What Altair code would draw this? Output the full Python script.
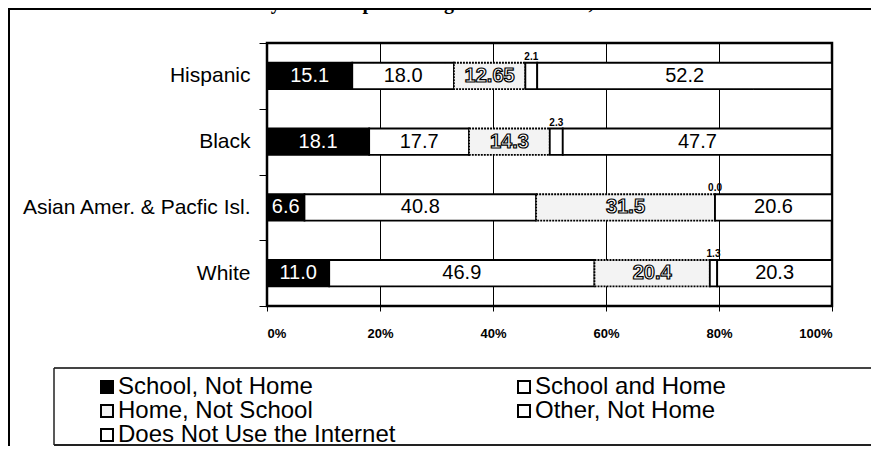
import altair as alt
import pandas as pd

# ---- data ----
races = ["Hispanic", "Black", "Asian Amer. & Pacfic Isl.", "White"]
categories = ["School, Not Home", "School and Home", "Home, Not School",
              "Other, Not Home", "Does Not Use the Internet"]
school_not_home = [15.1, 18.1, 6.6, 11.0]
school_and_home = [18.0, 17.7, 40.8, 46.9]
home_not_school = [12.65, 14.3, 31.5, 20.4]
other_not_home = [2.1, 2.3, 0.0, 1.3]
no_internet = [52.2, 47.7, 20.6, 20.3]
x_ticks = [0, 0.2, 0.4, 0.6, 0.8, 1.0]
title_text = ["By Race/Hispanic Origin and Location, 2001"]
fills = ["#000000", "#ffffff", "#f3f3f3", "#ffffff", "#ffffff"]

series = [school_not_home, school_and_home, home_not_school, other_not_home, no_internet]


def fmt(v):
    return f"{v:.2f}" if round(v, 1) != v else f"{v:.1f}"


rows = []
for ci, (cat, vals) in enumerate(zip(categories, series)):
    for ri, race in enumerate(races):
        rows.append({"race": race, "cat": cat, "order": ci,
                     "value": vals[ri], "label": fmt(vals[ri])})
df = pd.DataFrame(rows)

FONT = "Liberation Sans"

base = alt.Chart(df).transform_joinaggregate(
    total="sum(value)", groupby=["race"]
).transform_window(
    cum="sum(value)", sort=[alt.SortField("order")], groupby=["race"], frame=[None, 0]
).transform_calculate(
    end="datum.cum / datum.total",
    start="(datum.cum - datum.value) / datum.total",
    mid="(datum.cum - datum.value / 2) / datum.total",
)

y_enc = alt.Y(
    "race:N", sort=races,
    scale=alt.Scale(paddingInner=0, paddingOuter=0),
    axis=alt.Axis(title=None, tickBand="extent", tickSize=8, tickColor="black",
                  tickWidth=1, labelFontSize=21, labelFont=FONT, labelColor="black",
                  labelPadding=9, domain=False, grid=False, labelLimit=300),
)

bars = base.mark_bar(height=alt.RelativeBandSize(0.4), stroke="black", strokeWidth=1.8).encode(
    x=alt.X("start:Q", scale=alt.Scale(domain=[0, 1], nice=False),
            axis=alt.Axis(format="%", values=x_ticks, grid=True, gridColor="black",
                          gridWidth=1, gridOpacity=1, tickColor="black", tickSize=5,
                          labelFont=FONT, labelFontWeight="bold", labelFontSize=13,
                          labelColor="black", labelPadding=16, domain=False, title=None)),
    x2="end:Q",
    y=y_enc,
    color=alt.Color("cat:N", sort=categories,
                    scale=alt.Scale(domain=categories, range=fills),
                    legend=alt.Legend(title=None, orient="none", legendX=-172, legendY=332,
                                      direction="horizontal", columns=2, columnPadding=116,
                                      rowPadding=0, symbolType="square", symbolSize=144,
                                      symbolStrokeColor="black", symbolStrokeWidth=2,
                                      symbolOpacity=1, labelFont=FONT, labelFontSize=24,
                                      labelColor="black", labelOffset={"expr": "-1"},
                                      labelLimit=500)),
    strokeDash=alt.condition(alt.datum.cat == "Home, Not School",
                             alt.value([2, 1]), alt.value([1, 0])),
)

big = base.transform_filter(
    (alt.datum.cat != "Other, Not Home") & (alt.datum.cat != "Home, Not School")
)
labels = big.mark_text(font=FONT, fontSize=20, baseline="middle").encode(
    x="mid:Q", y=alt.Y("race:N", sort=races), text="label:N",
    color=alt.condition(alt.datum.cat == "School, Not Home",
                        alt.value("white"), alt.value("black")),
)

outlined = base.transform_filter(alt.datum.cat == "Home, Not School").mark_text(
    font=FONT, fontSize=20, fontWeight="bold", baseline="middle", fill="white",
    stroke="black", strokeWidth=1.2
).encode(x="mid:Q", y=alt.Y("race:N", sort=races), text="label:N")

small = base.transform_filter(alt.datum.cat == "Other, Not Home").mark_text(
    font=FONT, fontSize=10, fontWeight="bold", baseline="bottom", yOffset=-14, color="black"
).encode(x="mid:Q", y=alt.Y("race:N", sort=races), text="label:N")

one = pd.DataFrame({"k": [0]})
frame_top = alt.Chart(one).mark_rule(color="black", strokeWidth=2).encode(
    x=alt.value(-259), x2=alt.value(604), y=alt.value(-34))
frame_left = alt.Chart(one).mark_rule(color="black", strokeWidth=2).encode(
    x=alt.value(-258), y=alt.value(-34), y2=alt.value(410))
leg_top = alt.Chart(one).mark_rule(color="#444444", strokeWidth=2).encode(
    x=alt.value(-213), x2=alt.value(604), y=alt.value(325))
leg_bottom = alt.Chart(one).mark_rule(color="#222222", strokeWidth=2).encode(
    x=alt.value(-213), x2=alt.value(604), y=alt.value(402))
leg_left = alt.Chart(one).mark_rule(color="#222222", strokeWidth=1.5).encode(
    x=alt.value(-213), y=alt.value(325), y2=alt.value(402))

title = alt.Chart(pd.DataFrame({"t": title_text})).mark_text(
    font="Liberation Serif", fontSize=20, fontWeight="bold", baseline="alphabetic",
    align="center", color="black"
).encode(text="t:N", x=alt.value(181), y=alt.value(-34))

chart = alt.layer(
    bars, labels, outlined, small, frame_top, frame_left, leg_top, leg_bottom, leg_left, title
).properties(
    width=565, height=263,
    autosize=alt.AutoSizeParams(type="none"),
    padding={"left": 259, "top": 35, "right": 39, "bottom": 140},
).configure_view(stroke="black", strokeWidth=2.5)

chart.save("out.html", embed_options={"renderer": "svg", "actions": False})
